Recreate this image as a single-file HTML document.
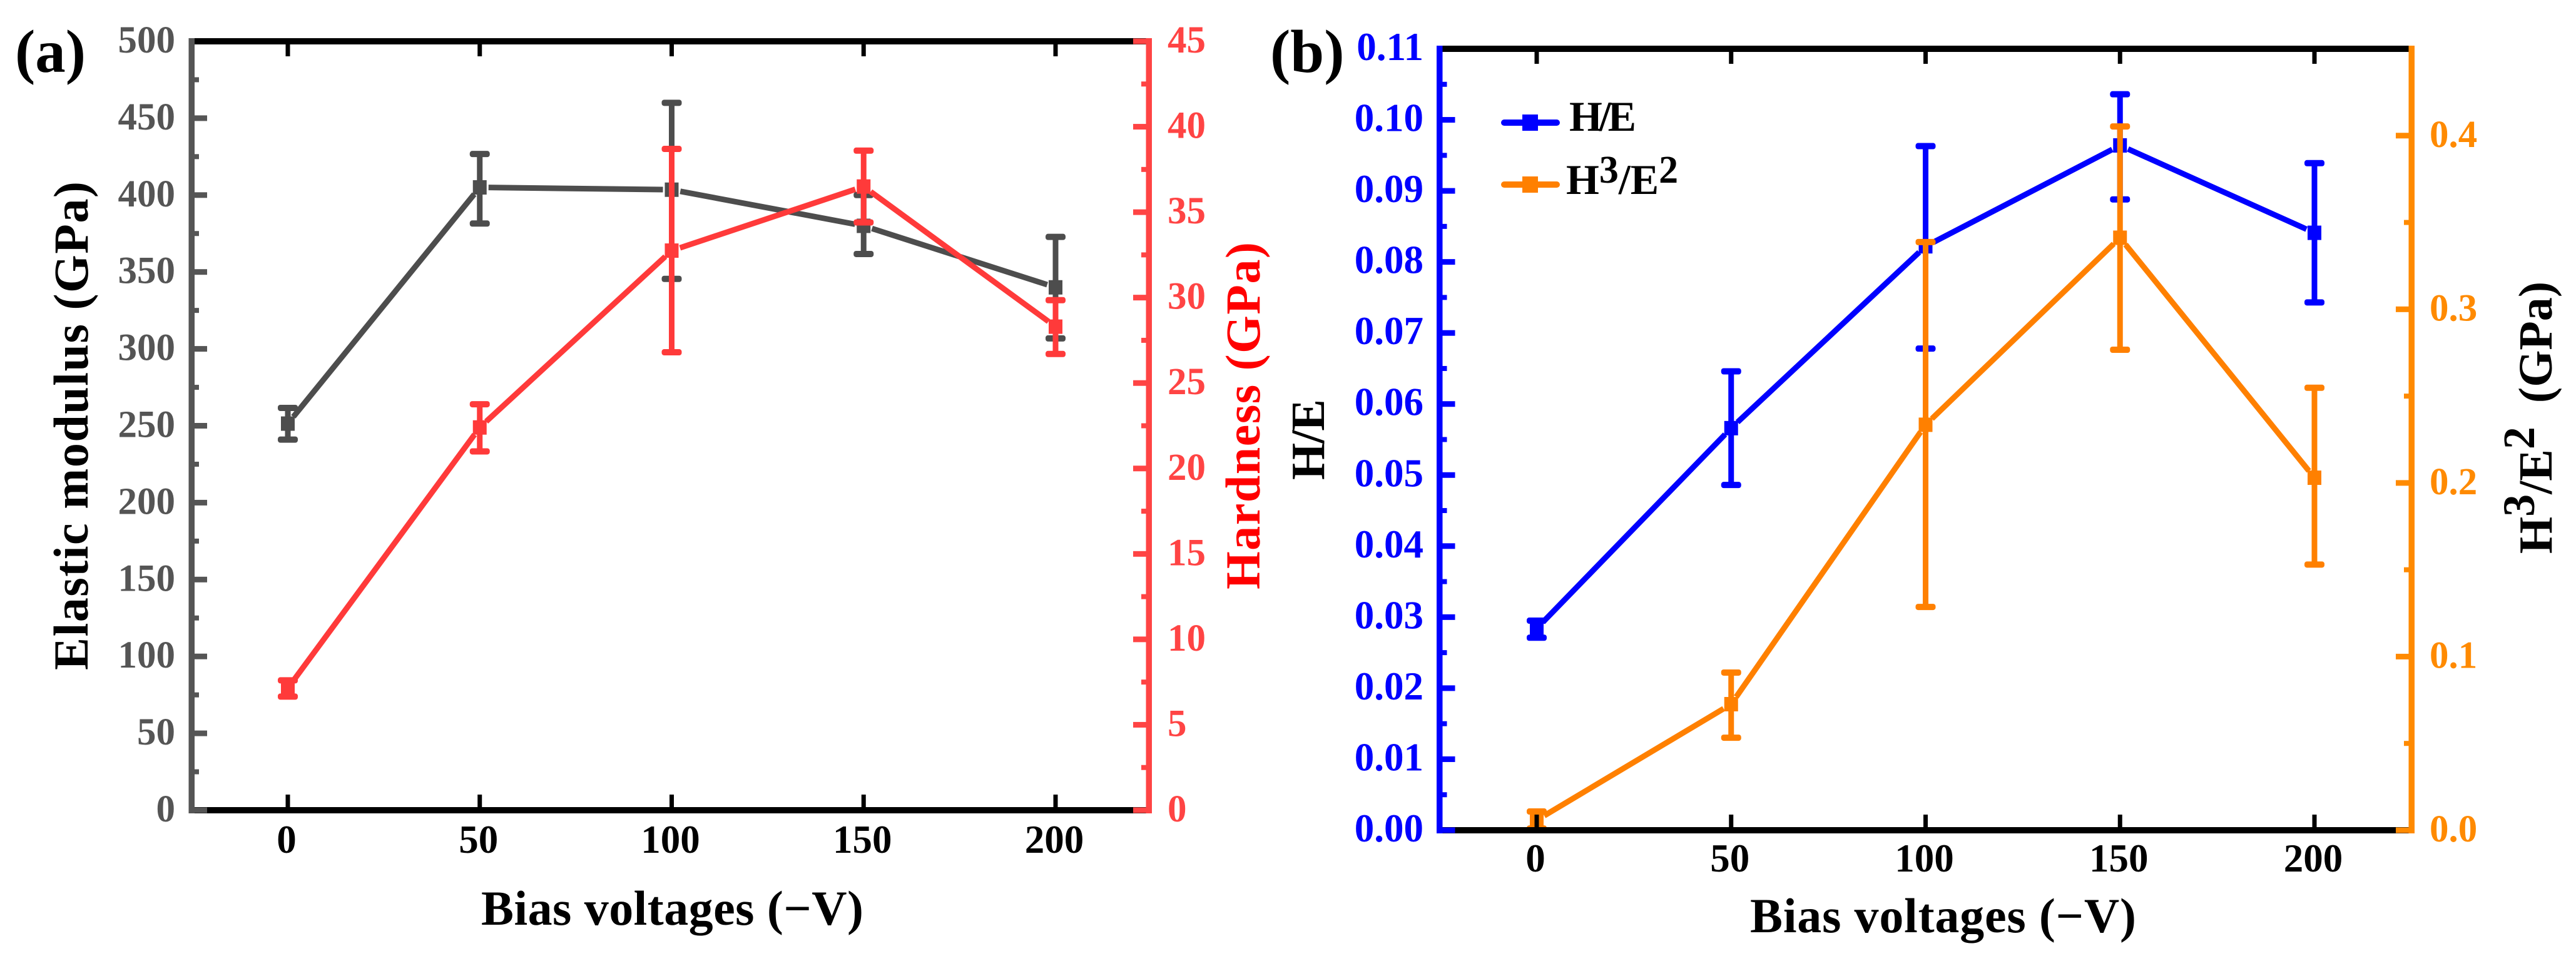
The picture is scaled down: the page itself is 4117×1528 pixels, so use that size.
<!DOCTYPE html>
<html lang="en">
<head>
<meta charset="utf-8">
<title>Bias voltage mechanical properties</title>
<style>
html,body{margin:0;padding:0;background:#fff;}
#figure{display:block;width:4117px;height:1528px;font-family:"Liberation Serif",serif;font-weight:bold;}
text{font-family:"Liberation Serif",serif;font-weight:bold;}
</style>
</head>
<body>
<svg id="figure" xmlns="http://www.w3.org/2000/svg" width="4117" height="1528" viewBox="0 0 4117 1528">
  <rect x="0" y="0" width="4117" height="1528" fill="#fff"/>
  <g id="panel-a"></g>
  <g id="panel-b"></g>

  <text x="24" y="115" font-size="97" fill="#000">(a)</text>
  <text x="2030" y="115" font-size="97" fill="#000">(b)</text>

  <text transform="translate(140,1071) rotate(-90)" font-size="78" fill="#000" textLength="781">Elastic modulus (GPa)</text>
  <text transform="translate(2013,942) rotate(-90)" font-size="78" fill="#ff0000" textLength="555">Hardness (GPa)</text>
  <text x="769" y="1478" font-size="78" fill="#000" textLength="611">Bias voltages (−V)</text>

  <text transform="translate(2116,767) rotate(-90)" font-size="76" fill="#000" textLength="129">H/E</text>
  <text transform="translate(4078,885) rotate(-90)" font-size="76" fill="#000">H<tspan dy="-28" font-size="72">3</tspan><tspan dy="28">/E</tspan><tspan dy="-28" font-size="72">2</tspan><tspan dy="28" xml:space="preserve">  (GPa)</tspan></text>
  <text x="2797" y="1490" font-size="78" fill="#000" textLength="617">Bias voltages (−V)</text>

  <g>
    <g>
      <line x1="2404" y1="196" x2="2488" y2="196" stroke="#0000ff" stroke-width="10" stroke-linecap="round"/>
      <rect x="2433" y="183" width="25" height="26" fill="#0000ff"/>
      <text x="2508" y="209" font-size="68" fill="#000" textLength="107">H/E</text>
    </g>
    <g>
      <line x1="2404" y1="295" x2="2488" y2="295" stroke="#ff8000" stroke-width="10" stroke-linecap="round"/>
      <rect x="2433" y="282" width="25" height="26" fill="#ff8000"/>
      <text x="2503" y="310" font-size="68" fill="#000">H<tspan dy="-18" font-size="62">3</tspan><tspan dy="18">/E</tspan><tspan dy="-18" font-size="62">2</tspan></text>
    </g>
  </g>
</svg>

<script>
// Shared category axis
const biasVoltages = [0, 50, 100, 150, 200];
const xTickLabels = ["0", "50", "100", "150", "200"];

// Panel (a) data
const elasticModulus = [251.4, 405, 403.5, 380, 340];
const elasticUpper = [261.6, 426.7, 460, 400, 372.8];
const elasticLower = [241, 381.5, 345.5, 361.7, 306.8];
const hardness = [7.14, 22.4, 32.75, 36.5, 28.3];
const hardnessUpper = [7.6, 23.76, 38.7, 38.6, 29.85];
const hardnessLower = [6.65, 21, 26.8, 34.4, 26.7];
const elasticTicks = [0, 50, 100, 150, 200, 250, 300, 350, 400, 450, 500];
const elasticTickLabels = ["0", "50", "100", "150", "200", "250", "300", "350", "400", "450", "500"];
const elasticMinorTicks = [25, 75, 125, 175, 225, 275, 325, 375, 425, 475];
const hardnessTicks = [0, 5, 10, 15, 20, 25, 30, 35, 40, 45];
const hardnessTickLabels = ["0", "5", "10", "15", "20", "25", "30", "35", "40", "45"];
const hardnessMinorTicks = [2.5, 7.5, 12.5, 17.5, 22.5, 27.5, 32.5, 37.5, 42.5];

// Panel (b) data
const hOverE = [0.0284, 0.0566, 0.0822, 0.0964, 0.0841];
const hOverEUpper = [0.0295, 0.0646, 0.0963, 0.1036, 0.0939];
const hOverELower = [0.0271, 0.0486, 0.0678, 0.0888, 0.0743];
const h3OverE2 = [0.0058, 0.0726, 0.2335, 0.3412, 0.203];
const h3OverE2Upper = [0.0108, 0.0908, 0.3387, 0.4053, 0.2548];
const h3OverE2Lower = [0.001, 0.0533, 0.1286, 0.2767, 0.153];
const hOverETicks = [0, 0.01, 0.02, 0.03, 0.04, 0.05, 0.06, 0.07, 0.08, 0.09, 0.10, 0.11];
const hOverETickLabels = ["0.00", "0.01", "0.02", "0.03", "0.04", "0.05", "0.06", "0.07", "0.08", "0.09", "0.10", "0.11"];
const hOverEMinorTicks = [0.005, 0.015, 0.025, 0.035, 0.045, 0.055, 0.065, 0.075, 0.085, 0.095, 0.105];
const h3OverE2Ticks = [0, 0.1, 0.2, 0.3, 0.4];
const h3OverE2TickLabels = ["0.0", "0.1", "0.2", "0.3", "0.4"];
const h3OverE2MinorTicks = [0.05, 0.15, 0.25, 0.35];

const SVG_NS = "http://www.w3.org/2000/svg";

function make(tag, attrs, parent) {
  const node = document.createElementNS(SVG_NS, tag);
  for (const k in attrs) node.setAttribute(k, attrs[k]);
  parent.appendChild(node);
  return node;
}

function drawSeries(parent, name, color, xScale, yScale, values, upper, lower) {
  const group = make("g", {}, parent);
  
  
  const gap = 14;
  for (let i = 0; i < values.length - 1; i++) {
    const x1 = xScale(biasVoltages[i]), y1 = yScale(values[i]);
    const x2 = xScale(biasVoltages[i + 1]), y2 = yScale(values[i + 1]);
    const len = Math.hypot(x2 - x1, y2 - y1);
    const ux = (x2 - x1) / len, uy = (y2 - y1) / len;
    const seg = make("line", {
      x1: x1 + ux * gap, y1: y1 + uy * gap,
      x2: x2 - ux * gap, y2: y2 - uy * gap,
      stroke: color, "stroke-width": 9
    }, group);
    
    
  }
  for (let i = 0; i < values.length; i++) {
    const cx = xScale(biasVoltages[i]);
    const yTop = yScale(upper[i]), yBot = yScale(lower[i]), yVal = yScale(values[i]);
    const stem = make("line", {x1: cx, x2: cx, y1: yTop, y2: yBot, stroke: color, "stroke-width": 9}, group);
    
    
    const capTop = make("rect", {x: cx - 16, y: yTop - 5, width: 32, height: 10, rx: 4, fill: color}, group);
    
    
    const capBot = make("rect", {x: cx - 16, y: yBot - 5, width: 32, height: 10, rx: 4, fill: color}, group);
    
    
    const marker = make("rect", {x: cx - 11, y: yVal - 11.5, width: 22, height: 23, fill: color}, group);
    
    
  }
}

function drawYAxis(parent, name, color, axisX, dir, yScale, ticks, labels, minors, labelX, anchor, fontSize, yTop, yBot, skipTop) {
  const group = make("g", {}, parent);
  
  
  const spine = make("rect", {x: axisX - 4.5, y: yTop, width: 9.5, height: yBot - yTop, fill: color}, group);
  
  
  ticks.forEach((t, i) => {
    const y = yScale(t);
    if (!(skipTop && i === ticks.length - 1)) {
      const w = 25;
      const tick = make("rect", {x: dir > 0 ? axisX : axisX - w, y: y - 4.5, width: w, height: 9, fill: color}, group);
      
      
    }
    const label = make("text", {x: labelX, y: y + 18, "text-anchor": anchor, "font-size": fontSize, fill: color}, group);
    label.textContent = labels[i];
    
    
  });
  minors.forEach(t => {
    const y = yScale(t);
    const w = 12;
    const tick = make("rect", {x: dir > 0 ? axisX : axisX - w, y: y - 4, width: w, height: 8, fill: color}, group);
    
    
  });
}

function drawXAxis(parent, name, xScale, x1, x2, topY, bottomY, labelY, labelDx) {
  const group = make("g", {}, parent);
  
  
  const top = make("rect", {x: x1, y: topY - 5, width: x2 - x1, height: 10, fill: "#000"}, group);
  
  
  const bottom = make("rect", {x: x1, y: bottomY - 5, width: x2 - x1, height: 10, fill: "#000"}, group);
  
  
  biasVoltages.forEach((v, i) => {
    const x = xScale(v);
    const tt = make("rect", {x: x - 3.5, y: topY, width: 7, height: 24, fill: "#000"}, group);
    
    
    const bt = make("rect", {x: x - 3.5, y: bottomY - 25, width: 7, height: 25, fill: "#000"}, group);
    
    
    const label = make("text", {x: x + labelDx, y: labelY, "text-anchor": "middle", "font-size": 63, fill: "#000"}, group);
    label.textContent = xTickLabels[i];
    
    
  });
}

function linear(d0, d1, r0, r1) {
  return v => r0 + (v - d0) * (r1 - r0) / (d1 - d0);
}

// Panel (a)
(function () {
  const g = document.getElementById("panel-a");
  const x = linear(0, 200, 460, 1687);
  const yE = linear(0, 500, 1295, 66);
  const yH = linear(0, 45, 1295, 66);
  drawSeries(g, "elastic-modulus", "#4d4d4d", x, yE, elasticModulus, elasticUpper, elasticLower);
  drawSeries(g, "hardness", "#ff3a3a", x, yH, hardness, hardnessUpper, hardnessLower);
  drawXAxis(g, "panel-a-x-axis", x, 306, 1836, 66, 1295, 1363, -2);
  drawYAxis(g, "elastic-modulus-axis", "#555555", 306, 1, yE, elasticTicks, elasticTickLabels, elasticMinorTicks, 280, "end", 61, 61, 1300, true);
  drawYAxis(g, "hardness-axis", "#ff4444", 1836, -1, yH, hardnessTicks, hardnessTickLabels, hardnessMinorTicks, 1866, "start", 61, 61, 1300, false);
})();

// Panel (b)
(function () {
  const g = document.getElementById("panel-b");
  const x = linear(0, 200, 2456, 3699);
  const yL = linear(0, 0.11, 1327, 78);
  const yR = linear(0, 0.45, 1327, 78);
  drawSeries(g, "h-over-e", "#0000ff", x, yL, hOverE, hOverEUpper, hOverELower);
  drawSeries(g, "h3-over-e2", "#ff8000", x, yR, h3OverE2, h3OverE2Upper, h3OverE2Lower);
  drawXAxis(g, "panel-b-x-axis", x, 2300, 3854, 78, 1327, 1393, -2);
  drawYAxis(g, "h-over-e-axis", "#0000ff", 2300.5, 1, yL, hOverETicks, hOverETickLabels, hOverEMinorTicks, 2275, "end", 63, 73, 1332, true);
  drawYAxis(g, "h3-over-e2-axis", "#ff8a00", 3854, -1, yR, h3OverE2Ticks, h3OverE2TickLabels, h3OverE2MinorTicks, 3883, "start", 61, 73, 1332, false);
})();
</script>
</body>
</html>
